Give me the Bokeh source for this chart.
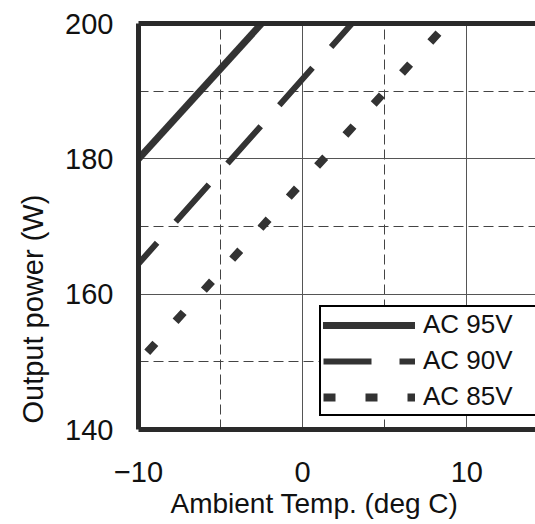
from bokeh.plotting import figure
from bokeh.models import FixedTicker, LinearAxis, Legend, LegendItem, Range1d, Title
from bokeh.embed import file_html
from bokeh.resources import INLINE

# ---- data ----
series_labels = ["AC 95V", "AC 90V", "AC 85V"]
temp_95 = [-10.0, -2.5]
power_95 = [180.0, 200.0]
temp_90 = [-10.0, 3.0]
power_90 = [164.5, 200.0]
temp_85 = [-10.0, 8.8]
power_85 = [150.0, 200.0]
x_ticks = [-10, 0, 10]
x_minor = [-5, 5]
y_ticks = [140, 160, 180, 200]
y_minor = [150, 170, 190]
x_title = "Ambient Temp. (deg C)"
y_title = "Output power (W)"

FONT = "Liberation Sans"
INK = "#111111"
LINE_C = "#333333"
FRAME_C = "#2a2a2a"
NAN = float("nan")

p = figure(width=535, height=524, output_backend="svg", toolbar_location=None,
           x_range=Range1d(-10, 14.18), y_range=Range1d(140, 200),
           min_border_left=136, min_border_right=0, min_border_top=23,
           min_border_bottom=95)
p.outline_line_color = None
p.background_fill_color = "white"
p.border_fill_color = "white"

p.xaxis.ticker = FixedTicker(ticks=x_ticks, minor_ticks=x_minor)
p.yaxis.ticker = FixedTicker(ticks=y_ticks, minor_ticks=y_minor)

for ax in (p.xaxis, p.yaxis):
    ax.axis_line_width = 5
    ax.axis_line_color = FRAME_C
    ax.major_tick_in = 0
    ax.major_tick_out = 0
    ax.minor_tick_in = 0
    ax.minor_tick_out = 0
    ax.major_label_text_font = FONT
    ax.major_label_text_font_size = "29px"
    ax.major_label_text_color = INK

p.xaxis.major_label_standoff = 32
p.yaxis.major_label_standoff = 25

# axis titles (placed off-centre like in the reference)
p.add_layout(Title(text=x_title, align="left", offset=32, standoff=3,
                   text_font=FONT, text_font_size="28px", text_font_style="normal",
                   text_color=INK), "below")
p.add_layout(Title(text=y_title, align="left", offset=6, standoff=28,
                   text_font=FONT, text_font_size="29px", text_font_style="normal",
                   text_color=INK), "left")

top_axis = LinearAxis(ticker=FixedTicker(ticks=[]), axis_line_width=5,
                      axis_line_color=FRAME_C, major_tick_out=0, major_tick_in=0,
                      minor_tick_out=0, minor_tick_in=0)
p.add_layout(top_axis, "above")

for g in (p.xgrid, p.ygrid):
    g.grid_line_color = "#555555"
    g.grid_line_width = 1
    g.minor_grid_line_color = "#444444"
    g.minor_grid_line_width = 1
    g.minor_grid_line_dash = "10 5"

p.line(temp_95, power_95, line_width=7, line_color=LINE_C)
p.line(temp_90, power_90, line_width=6, line_color=LINE_C,
       line_dash="50 28", line_dash_offset=22)
p.line(temp_85, power_85, line_width=8, line_color=LINE_C,
       line_dash="12 30", line_dash_offset=29)

# legend proxies (style only, not drawn in the plot area)
l95 = p.line([NAN], [NAN], line_width=7, line_color=LINE_C, line_cap="round")
l90 = p.line([NAN], [NAN], line_width=6, line_color=LINE_C, line_dash="48 28")
l85 = p.line([NAN], [NAN], line_width=8, line_color=LINE_C, line_dash="12 30")

legend = Legend(items=[LegendItem(label=series_labels[0], renderers=[l95]),
                       LegendItem(label=series_labels[1], renderers=[l90]),
                       LegendItem(label=series_labels[2], renderers=[l85])],
                location=(181, 13), orientation="vertical",
                padding=2, spacing=5, margin=0,
                glyph_width=92, glyph_height=28, label_height=28,
                label_width=140, label_standoff=8,
                label_text_font=FONT, label_text_font_size="26px",
                label_text_color=INK,
                border_line_color="#000000", border_line_width=2,
                border_line_alpha=1.0,
                background_fill_color="white", background_fill_alpha=1.0)
p.add_layout(legend)

open("out.html", "w").write(file_html(p, INLINE))
